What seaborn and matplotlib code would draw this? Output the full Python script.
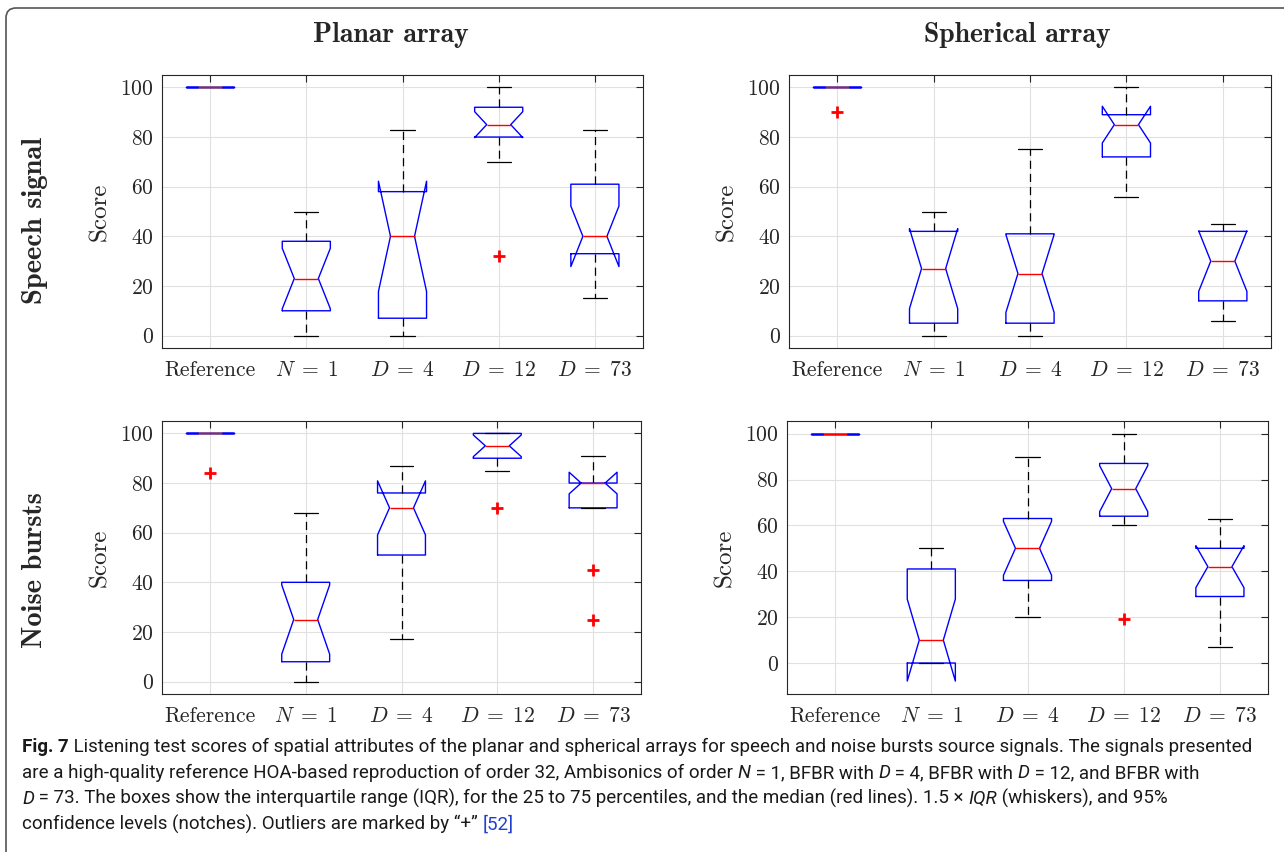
import pandas as pd
import matplotlib
matplotlib.use('Agg')
import matplotlib.pyplot as plt
from matplotlib.patches import FancyBboxPatch
from matplotlib.transforms import IdentityTransform
import seaborn as sns

# Conditions on the x axis
conditions = ['Reference', r'$N\;=\;1$', r'$D\;=\;4$', r'$D\;=\;12$', r'$D\;=\;73$']

# Listener scores (13 listeners)
# Planar array, speech signal
ps_ref = [100, 100, 100, 100, 100, 100, 100, 100, 100, 100, 100, 100, 100]
ps_n1 = [0, 5, 8, 10, 15, 20, 23, 27, 33, 38, 42, 45, 50]
ps_d4 = [0, 2, 5, 7, 17, 30, 40, 45, 50, 58, 65, 75, 83]
ps_d12 = [32, 70, 75, 80, 80, 83, 85, 87, 90, 92, 95, 100, 100]
ps_d73 = [15, 20, 25, 33, 35, 38, 40, 45, 52, 61, 67, 75, 83]

# Spherical array, speech signal
ss_ref = [90, 100, 100, 100, 100, 100, 100, 100, 100, 100, 100, 100, 100]
ss_n1 = [0, 0, 2, 5, 10, 18, 27, 30, 35, 42, 45, 48, 50]
ss_d4 = [0, 0, 3, 5, 10, 17, 25, 30, 35, 41, 50, 60, 75]
ss_d12 = [56, 62, 68, 72, 78, 82, 85, 86, 88, 89, 92, 95, 100]
ss_d73 = [6, 8, 10, 14, 20, 25, 30, 34, 38, 42, 43, 44, 45]

# Planar array, noise bursts
pn_ref = [84, 100, 100, 100, 100, 100, 100, 100, 100, 100, 100, 100, 100]
pn_n1 = [0, 2, 5, 8, 12, 20, 25, 30, 35, 40, 50, 60, 68]
pn_d4 = [17, 30, 45, 51, 60, 65, 70, 72, 75, 76, 80, 85, 87]
pn_d12 = [70, 85, 88, 90, 92, 93, 95, 97, 100, 100, 100, 100, 100]
pn_d73 = [25, 45, 70, 70, 70, 75, 80, 80, 80, 80, 85, 90, 91]

# Spherical array, noise bursts
sn_ref = [100, 100, 100, 100, 100, 100, 100, 100, 100, 100, 100, 100, 100]
sn_n1 = [0, 0, 0, 0, 3, 5, 10, 20, 30, 41, 45, 48, 50]
sn_d4 = [20, 25, 30, 36, 40, 45, 50, 55, 60, 63, 70, 80, 90]
sn_d12 = [19, 60, 62, 64, 68, 72, 76, 80, 84, 87, 90, 95, 100]
sn_d73 = [7, 15, 22, 29, 35, 38, 42, 45, 48, 50, 55, 60, 63]


def long_form(groups):
    rows = []
    for cond, scores in zip(conditions, groups):
        for s in scores:
            rows.append({'condition': cond, 'score': s})
    return pd.DataFrame(rows)


panels = [
    (long_form([ps_ref, ps_n1, ps_d4, ps_d12, ps_d73]), (162, 75, 643, 348), (-5, 105)),
    (long_form([ss_ref, ss_n1, ss_d4, ss_d12, ss_d73]), (789, 75, 1271, 348), (-5, 105)),
    (long_form([pn_ref, pn_n1, pn_d4, pn_d12, pn_d73]), (162, 421, 641, 694), (-5, 105)),
    (long_form([sn_ref, sn_n1, sn_d4, sn_d12, sn_d73]), (787, 421, 1268, 694), (-13.5, 105.5)),
]

sns.set_style('white')
plt.rcParams['font.family'] = 'cmr10'
plt.rcParams['mathtext.fontset'] = 'cm'
plt.rcParams['axes.formatter.use_mathtext'] = True

W, H = 1284, 852
fig = plt.figure(figsize=(W / 100, H / 100), dpi=100)

for data, (l, t, r, b), ylim in panels:
    ax = fig.add_axes([l / W, 1 - b / H, (r - l) / W, (b - t) / H])
    sns.boxplot(data=data, x='condition', y='score', order=conditions, ax=ax,
                shownotches=True, width=0.5, fill=False, color='blue', linewidth=1.0,
                whis=1.5, fliersize=8,
                medianprops=dict(color='red', linewidth=1.0),
                whiskerprops=dict(color='black', linewidth=0.9, linestyle=(0, (6.5, 4))),
                capprops=dict(color='black', linewidth=0.9),
                flierprops=dict(marker='+', markeredgecolor='red', markersize=8,
                                markeredgewidth=2))
    ax.set_ylim(*ylim)
    ax.set_xlim(-0.5, 4.5)
    ax.set_yticks([0, 20, 40, 60, 80, 100])
    ax.set_axisbelow(True)
    ax.grid(True, color='0.88', linewidth=0.8)
    ax.xaxis.grid(True, color='0.88', linewidth=0.8)
    ax.tick_params(direction='in', top=True, right=True, length=5, width=0.8,
                   color='0.15', labelcolor='0.15', labelsize=15.5, pad=6)
    ax.tick_params(axis='x', pad=9)
    for sp in ax.spines.values():
        sp.set_color('0.15')
        sp.set_linewidth(0.8)
    ax.set_xlabel('')
    ax.set_ylabel('Score', fontsize=18, color='0.15')
    ax.yaxis.set_label_coords(-62 / (r - l), 0.5)
    ax.yaxis.label.set_va('center')


def px(x, y):
    return x / W, 1 - y / H


fig.text(*px(391, 35), 'Planar array', family='cmb10', fontsize=20, ha='center', va='center')
fig.text(*px(1017, 35), 'Spherical array', family='cmb10', fontsize=20, ha='center', va='center')
fig.text(*px(35, 221), 'Speech signal', family='cmb10', fontsize=20.5, rotation=90,
         ha='center', va='center')
fig.text(*px(35, 570), 'Noise bursts', family='cmb10', fontsize=20.5, rotation=90,
         ha='center', va='center')

# rounded frame around the figure and caption
fig.add_artist(FancyBboxPatch((6, -30), 1320, H - 8 + 30,
                              boxstyle='round,pad=0,rounding_size=10',
                              transform=IdentityTransform(), fill=False,
                              edgecolor='#555555', linewidth=1.2))

# caption, drawn run by run
caption_lines = [
    [('Fig. 7', 'b'),
     (' Listening test scores of spatial attributes of the planar and spherical arrays for speech and noise bursts source signals. The signals presented', 'n')],
    [('are a high-quality reference HOA-based reproduction of order 32, Ambisonics of order ', 'n'),
     ('N', 'i'), (' = 1, BFBR with ', 'n'), ('D', 'i'), (' = 4, BFBR with ', 'n'),
     ('D', 'i'), (' = 12, and BFBR with', 'n')],
    [('D', 'i'),
     (' = 73. The boxes show the interquartile range (IQR), for the 25 to 75 percentiles, and the median (red lines). 1.5 \u00d7 ', 'n'),
     ('IQR', 'i'), (' (whiskers), and 95%', 'n')],
    [('confidence levels (notches). Outliers are marked by \u201c+\u201d ', 'n'), ('[52]', 'link')],
]
caption_baselines = [752, 778, 804, 830]

renderer = fig.canvas.get_renderer()
for y, runs in zip(caption_baselines, caption_lines):
    x = 22
    for text, style in runs:
        kw = dict(family='Roboto', fontsize=13.5, color='#1a1a1a')
        if style == 'b':
            kw['weight'] = 'bold'
        elif style == 'i':
            kw['style'] = 'italic'
        elif style == 'link':
            kw['color'] = '#1f3fd0'
        fig.text(x, H - y, text, transform=IdentityTransform(), va='baseline', **kw)
        probe = fig.text(0, 0, text + '|', transform=IdentityTransform(), **kw)
        bar = fig.text(0, 0, '|', transform=IdentityTransform(), **kw)
        x += probe.get_window_extent(renderer).width - bar.get_window_extent(renderer).width
        probe.remove()
        bar.remove()

fig.savefig('out.png', dpi=100)
